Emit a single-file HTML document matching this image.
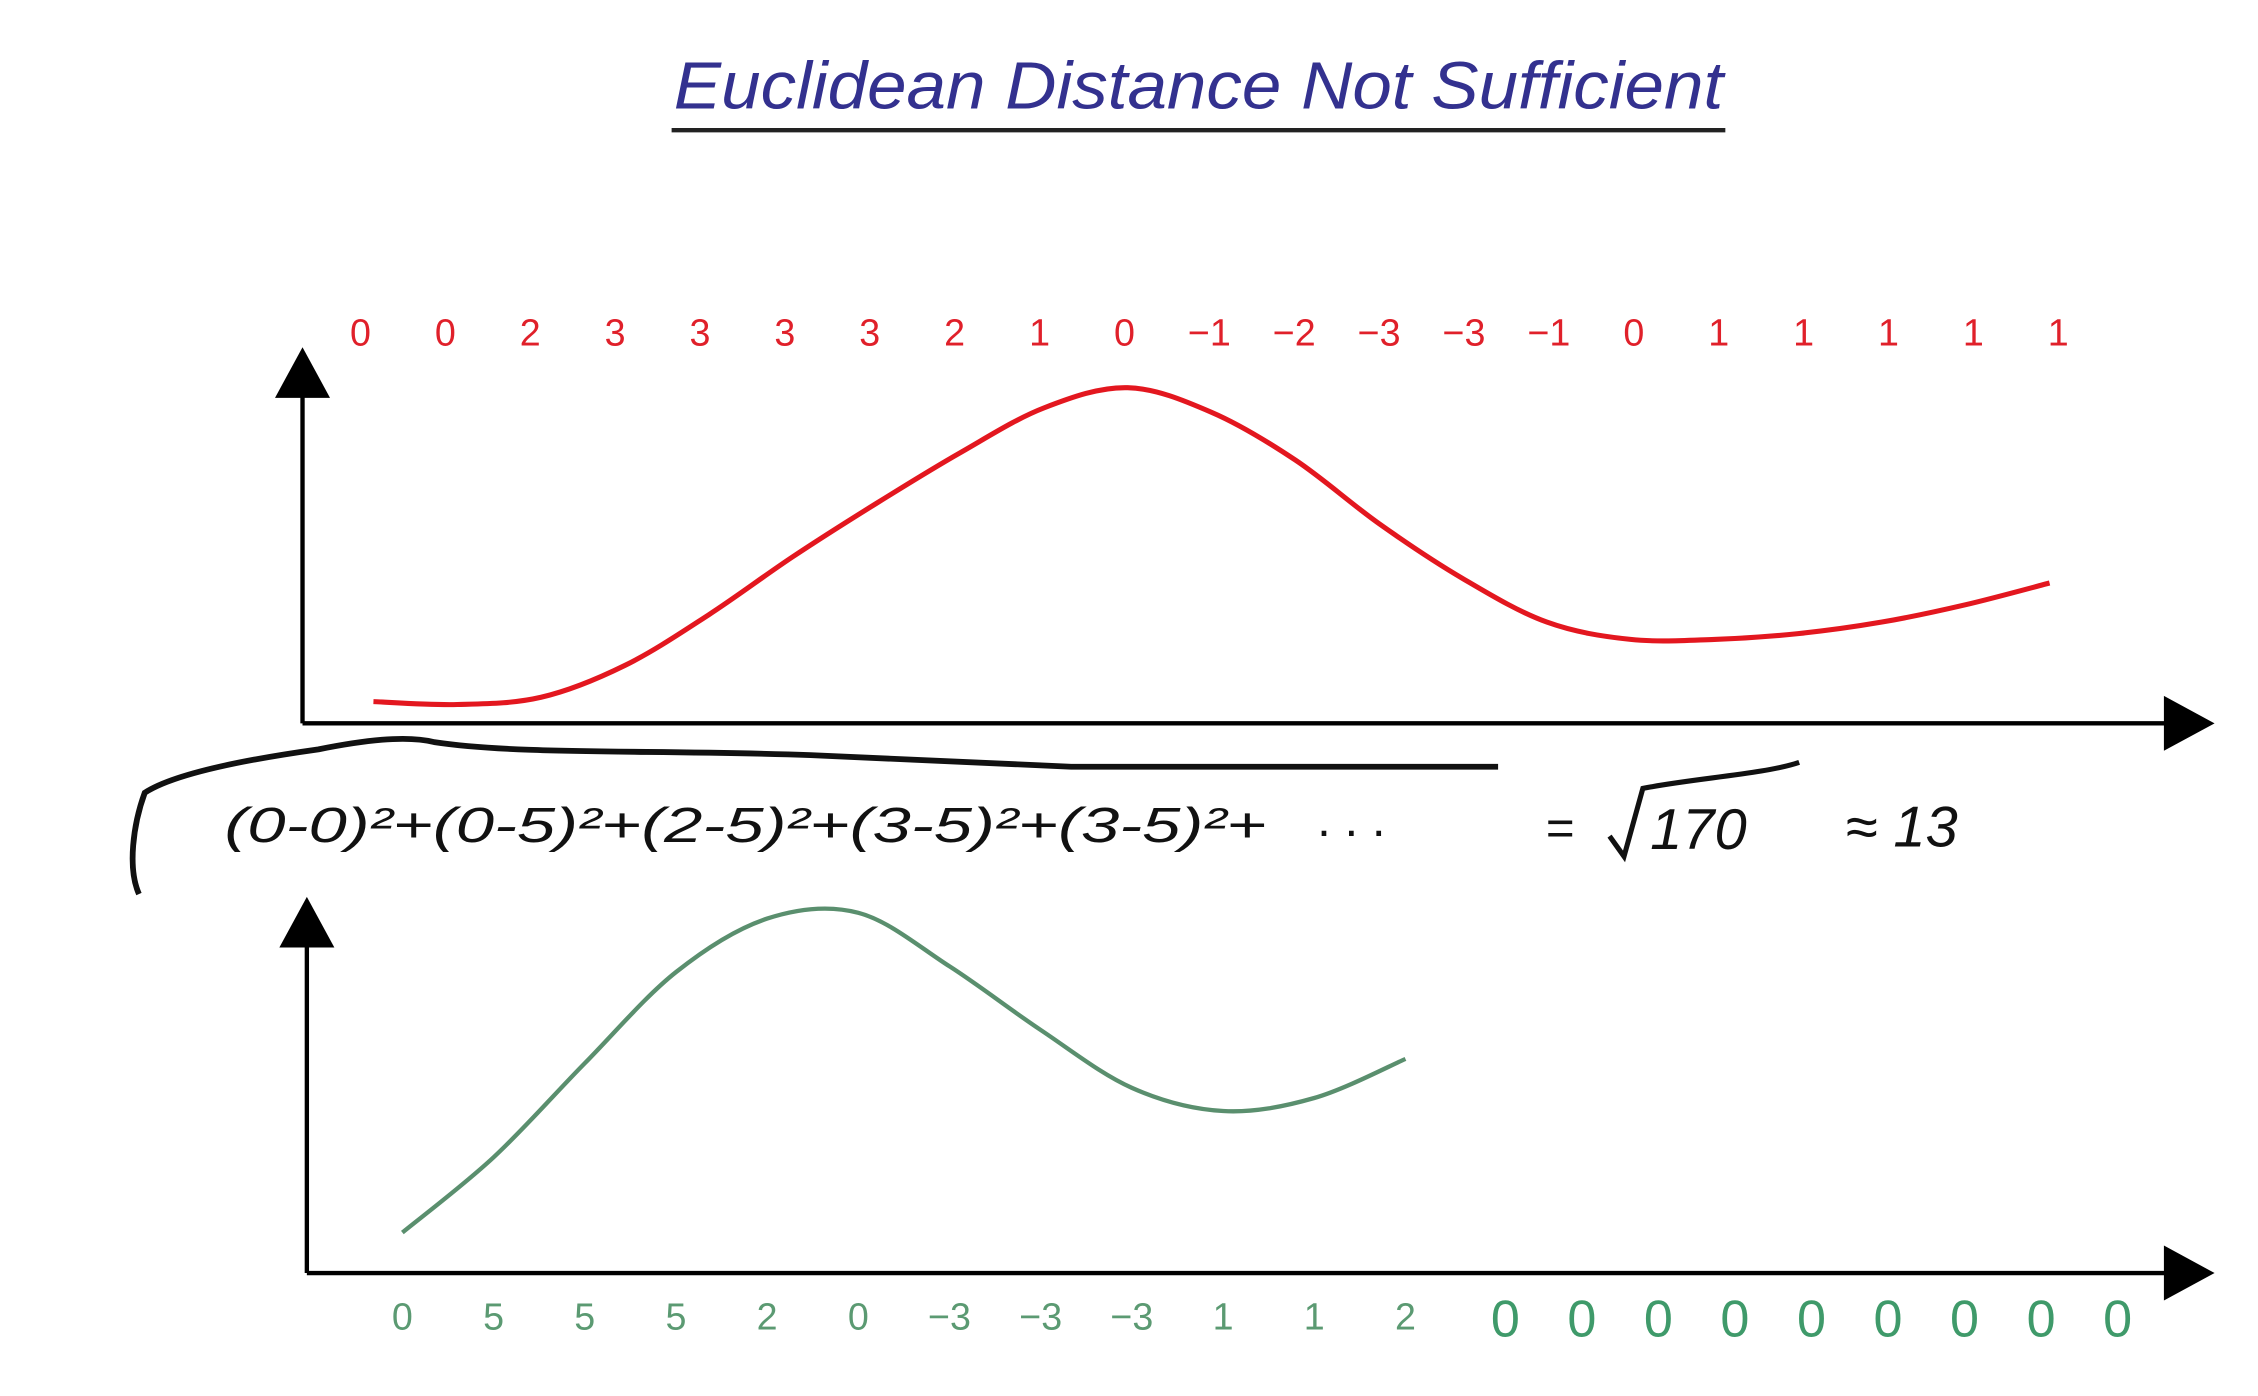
<!DOCTYPE html>
<html><head><meta charset="utf-8"><style>
html,body{margin:0;padding:0;background:#fff;}
svg{display:block;}
</style></head><body>
<svg id="chart" width="2258" height="1396" viewBox="0 0 1560 965" preserveAspectRatio="none" xmlns="http://www.w3.org/2000/svg">
<rect width="1560" height="965" fill="#fff"/>
<text x="828" y="75" text-anchor="middle" font-family="Liberation Sans, sans-serif" font-size="46" fill="#33318f" textLength="725" lengthAdjust="spacingAndGlyphs" font-style="italic">Euclidean Distance Not Sufficient</text>
<line x1="464" y1="90" x2="1192" y2="90" stroke="#222" stroke-width="3"/>
<g>
<line x1="209" y1="500" x2="209" y2="270" stroke="#000" stroke-width="3"/>
<polygon points="209,240 190,275 228,275" fill="#000"/>
<line x1="209" y1="500" x2="1500" y2="500" stroke="#000" stroke-width="3"/>
<polygon points="1530,500 1495,481 1495,519" fill="#000"/>
</g>
<g>
<line x1="212" y1="880" x2="212" y2="650" stroke="#000" stroke-width="3"/>
<polygon points="212,620 193,655 231,655" fill="#000"/>
<line x1="212" y1="880" x2="1500" y2="880" stroke="#000" stroke-width="3"/>
<polygon points="1530,880 1495,861 1495,899" fill="#000"/>
</g>
<g id="red-labels"></g>
<g id="green-labels"></g>
<g id="curves"></g>
<g font-family="Liberation Sans, sans-serif" fill="#111">
<path d="M96,618 C88,600 92,570 100,548 C120,535 170,525 220,518 C250,512 280,508 300,513 C360,522 450,518 560,522 C640,525 700,528 740,530 L1035,530" stroke="#111" stroke-width="4" fill="none"/>
<text x="155" y="582" font-size="34" font-style="italic" textLength="720" lengthAdjust="spacingAndGlyphs">(0-0)²+(0-5)²+(2-5)²+(3-5)²+(3-5)²+</text>
<text x="910" y="578" font-size="34">. . .</text>
<text x="1068" y="584" font-size="34">=</text>
<path d="M1112,578 L1122,592 L1135,545 C1170,538 1220,535 1243,527" stroke="#111" stroke-width="3.5" fill="none"/>
<text x="1140" y="587" font-size="40" font-style="italic">170</text>
<text x="1275" y="585" font-size="40" font-style="italic">≈ 13</text>
</g>
<script>
const redLabels = ["0","0","2","3","3","3","3","2","1","0","−1","−2","−3","−3","−1","0","1","1","1","1","1"];
const redCurve = [15,13,18,40,75,115,152,187,218,232,215,182,138,100,70,58,58,62,70,82,97];
const greenLabels = ["0","5","5","5","2","0","−3","−3","−3","1","1","2"];
const greenZeros = ["0","0","0","0","0","0","0","0","0"];
const greenCurve = [28,80,145,208,245,249,212,168,128,112,121,148];

const NS = "http://www.w3.org/2000/svg";
const xRed = i => 258 + i * (1416 - 258) / (redCurve.length - 1);
const xRedLabel = i => 249 + i * (1422 - 249) / (redLabels.length - 1);
const yRed = v => 500 - v;
const xGreen = i => 278 + i * (971 - 278) / (greenCurve.length - 1);
const yGreen = v => 880 - v;
const xZero = i => 1040 + i * (1463 - 1040) / (greenZeros.length - 1);

function spline(pts){
  let d = "M" + pts[0][0] + "," + pts[0][1];
  for (let i = 0; i < pts.length - 1; i++) {
    const p0 = pts[Math.max(0, i - 1)], p1 = pts[i], p2 = pts[i + 1], p3 = pts[Math.min(pts.length - 1, i + 2)];
    const c1x = p1[0] + (p2[0] - p0[0]) / 6, c1y = p1[1] + (p2[1] - p0[1]) / 6;
    const c2x = p2[0] - (p3[0] - p1[0]) / 6, c2y = p2[1] - (p3[1] - p1[1]) / 6;
    d += " C" + c1x + "," + c1y + " " + c2x + "," + c2y + " " + p2[0] + "," + p2[1];
  }
  return d;
}

const rl = document.getElementById("red-labels");
redLabels.forEach((t, i) => {
  const el = document.createElementNS(NS, "text");
  
  
  el.setAttribute("x", xRedLabel(i)); el.setAttribute("y", 239);
  el.setAttribute("text-anchor", "middle");
  el.setAttribute("font-family", "Liberation Sans, sans-serif");
  el.setAttribute("font-size", "26"); el.setAttribute("fill", "#e0202a");
  el.textContent = t; rl.appendChild(el);
});
const gl = document.getElementById("green-labels");
greenLabels.forEach((t, i) => {
  const el = document.createElementNS(NS, "text");
  
  
  el.setAttribute("x", xGreen(i)); el.setAttribute("y", 919);
  el.setAttribute("text-anchor", "middle");
  el.setAttribute("font-family", "Liberation Sans, sans-serif");
  el.setAttribute("font-size", "26"); el.setAttribute("fill", "#5b9a72");
  el.textContent = t; gl.appendChild(el);
});
greenZeros.forEach((t, i) => {
  const el = document.createElementNS(NS, "text");
  
  
  el.setAttribute("x", xZero(i)); el.setAttribute("y", 924);
  el.setAttribute("text-anchor", "middle");
  el.setAttribute("font-family", "Liberation Sans, sans-serif");
  el.setAttribute("font-size", "36"); el.setAttribute("fill", "#3f9a6a");
  el.textContent = t; gl.appendChild(el);
});
const cg = document.getElementById("curves");
const red = document.createElementNS(NS, "path");


red.setAttribute("d", spline(redCurve.map((v, i) => [xRed(i), yRed(v)])));
red.setAttribute("stroke", "#e3171f"); red.setAttribute("stroke-width", "3.5"); red.setAttribute("fill", "none");
cg.appendChild(red);
const green = document.createElementNS(NS, "path");


green.setAttribute("d", spline(greenCurve.map((v, i) => [xGreen(i), yGreen(v)])));
green.setAttribute("stroke", "#5a8f6e"); green.setAttribute("stroke-width", "3"); green.setAttribute("fill", "none");
cg.appendChild(green);
</script>
</svg>
</body></html>
